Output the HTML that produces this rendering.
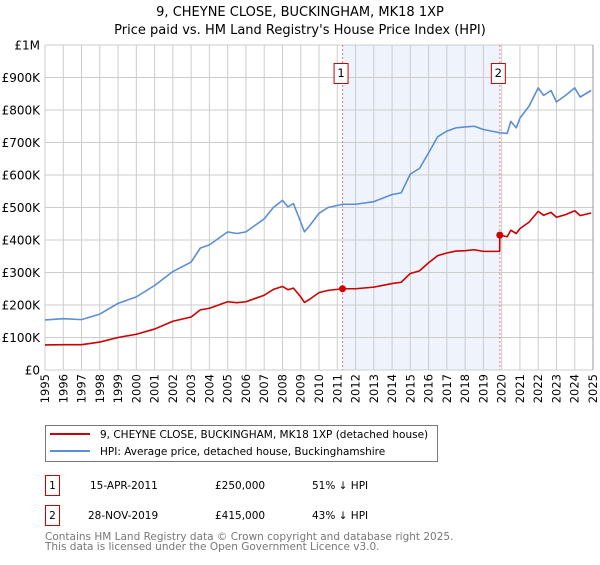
<!DOCTYPE html>
<html><head><meta charset="utf-8"><style>
body{margin:0;background:#fff;font-family:"Liberation Sans","DejaVu Sans",sans-serif;}
svg text{font-family:"DejaVu Sans","Liberation Sans",sans-serif;}
</style></head><body>
<svg id="chart" width="600" height="560" xmlns="http://www.w3.org/2000/svg">
<text x="300" y="16" text-anchor="middle" font-size="13" fill="#000">9, CHEYNE CLOSE, BUCKINGHAM, MK18 1XP</text>
<text x="300" y="34" text-anchor="middle" font-size="13" fill="#000">Price paid vs. HM Land Registry's House Price Index (HPI)</text>
<g id="plot"></g>
<g>
<rect x="45.5" y="425.5" width="392" height="36" fill="#fff" stroke="#777"/>
<line x1="50" y1="434" x2="90" y2="434" stroke="#cc0000" stroke-width="2"/>
<text x="100" y="438" font-size="10.5">9, CHEYNE CLOSE, BUCKINGHAM, MK18 1XP (detached house)</text>
<line x1="50" y1="451" x2="90" y2="451" stroke="#5b8fd4" stroke-width="2"/>
<text x="100" y="455" font-size="10.5">HPI: Average price, detached house, Buckinghamshire</text>
</g>
<g font-size="10.5">
<rect x="45.5" y="475.5" width="14" height="20" fill="#fff" stroke="#cc0000"/>
<text x="52.5" y="489" text-anchor="middle">1</text>
<text x="90" y="489">15-APR-2011</text><text x="215" y="489">£250,000</text><text x="312" y="489">51% ↓ HPI</text>
<rect x="45.5" y="505.5" width="14" height="20" fill="#fff" stroke="#cc0000"/>
<text x="52.5" y="519" text-anchor="middle">2</text>
<text x="88" y="519">28-NOV-2019</text><text x="215" y="519">£415,000</text><text x="312" y="519">43% ↓ HPI</text>
</g>
<text x="45" y="540" font-size="10.5" fill="#777">Contains HM Land Registry data © Crown copyright and database right 2025.</text>
<text x="45" y="550" font-size="10.5" fill="#777">This data is licensed under the Open Government Licence v3.0.</text>
</svg>
<script>
const hpiYears=[1995,1996,1997,1998,1999,2000,2001,2002,2003,2003.5,2004,2005,2005.5,2006,2007,2007.5,2008,2008.3,2008.6,2009,2009.2,2009.5,2010,2010.5,2011.29,2012,2013,2014,2014.5,2015,2015.5,2016,2016.5,2017,2017.5,2018,2018.5,2019,2019.9,2020.3,2020.5,2020.8,2021,2021.5,2022,2022.3,2022.7,2023,2023.5,2024,2024.3,2024.9];
const hpiValues=[154,158,155,172,205,225,260,303,332,375,385,425,420,425,465,500,522,502,512,455,425,445,482,500,510,510,518,540,545,603,620,668,718,735,745,748,750,740,730,728,765,745,775,812,868,845,860,825,845,868,840,860];
const propYears=[1995,1996,1997,1998,1999,2000,2001,2002,2003,2003.5,2004,2005,2005.5,2006,2007,2007.5,2008,2008.3,2008.6,2009,2009.2,2009.5,2010,2010.5,2011.29,2012,2013,2014,2014.5,2015,2015.5,2016,2016.5,2017,2017.5,2018,2018.5,2019,2019.89,2019.9,2020.3,2020.5,2020.8,2021,2021.5,2022,2022.3,2022.7,2023,2023.5,2024,2024.3,2024.9];
const propValues=[77,78,78,86,100,110,126,150,163,185,190,210,207,210,230,248,257,247,252,225,208,218,238,245,250,250,255,266,270,297,305,330,352,360,366,367,370,365,365,415,410,430,420,435,455,488,476,485,470,478,490,475,483];
const saleYears=[2011.29,2019.9];
const saleValues=[250,415];
const saleLabels=["1","2"];
const yTicks=[0,100,200,300,400,500,600,700,800,900,1000];
const yTickLabels=["£0","£100K","£200K","£300K","£400K","£500K","£600K","£700K","£800K","£900K","£1M"];
const xTicks=[1995,1996,1997,1998,1999,2000,2001,2002,2003,2004,2005,2006,2007,2008,2009,2010,2011,2012,2013,2014,2015,2016,2017,2018,2019,2020,2021,2022,2023,2024,2025];

const L=45,R=593,T=45,B=370;
const xs=y=>L+(y-1995)/30*(R-L);
const ys=v=>B-v/1000*(B-T);
const NS="http://www.w3.org/2000/svg";
const g=document.getElementById('plot');
function mk(tag,attrs){const e=document.createElementNS(NS,tag);for(const k in attrs)e.setAttribute(k,attrs[k]);g.appendChild(e);return e;}

const shade=mk('rect',{x:xs(saleYears[0]),y:T,width:xs(saleYears[1])-xs(saleYears[0]),height:B-T,fill:'#eef3fc'});



xTicks.forEach(t=>{
  const l=mk('line',{x1:xs(t),x2:xs(t),y1:T,y2:B,stroke:'#cccccc','stroke-width':1});
  
  
  const px=xs(t)+4, py=374;
  const tx=mk('text',{x:px,y:py,'text-anchor':'end','font-size':11.5,transform:'rotate(-90 '+px+' '+py+')'});
  tx.textContent=t;
  
  
});
yTicks.forEach((t,i)=>{
  const l=mk('line',{x1:L,x2:R,y1:ys(t),y2:ys(t),stroke:'#cccccc','stroke-width':1});
  
  
  const tx=mk('text',{x:40,y:ys(t)+4.5,'text-anchor':'end','font-size':12});
  tx.textContent=yTickLabels[i];
  
  
});
const rb=mk('line',{x1:R,x2:R,y1:T,y2:B,stroke:'#999','stroke-width':1});



saleYears.forEach((y,i)=>{
  const l=mk('line',{x1:xs(y),x2:xs(y),y1:T,y2:B,stroke:'#e87878','stroke-width':1,'stroke-dasharray':'2,2'});
  
  
  const r=mk('rect',{x:xs(y)-8.5,y:63.5,width:14,height:20,fill:'#fff',stroke:'#cc0000'});
  
  
  const t=mk('text',{x:xs(y)-1.5,y:77,'text-anchor':'middle','font-size':11.5});
  t.textContent=saleLabels[i];
  
  
});

const hp=mk('polyline',{points:hpiYears.map((y,i)=>xs(y)+','+ys(hpiValues[i])).join(' '),fill:'none',stroke:'#5b8fd4','stroke-width':1.6,'stroke-linejoin':'round'});


const pp=mk('polyline',{points:propYears.map((y,i)=>xs(y)+','+ys(propValues[i])).join(' '),fill:'none',stroke:'#cc0000','stroke-width':1.6,'stroke-linejoin':'round'});


saleYears.forEach((y,i)=>{
  const c=mk('circle',{cx:xs(y),cy:ys(saleValues[i]),r:3.5,fill:'#cc0000'});
  
  
});
</script>
</body></html>
